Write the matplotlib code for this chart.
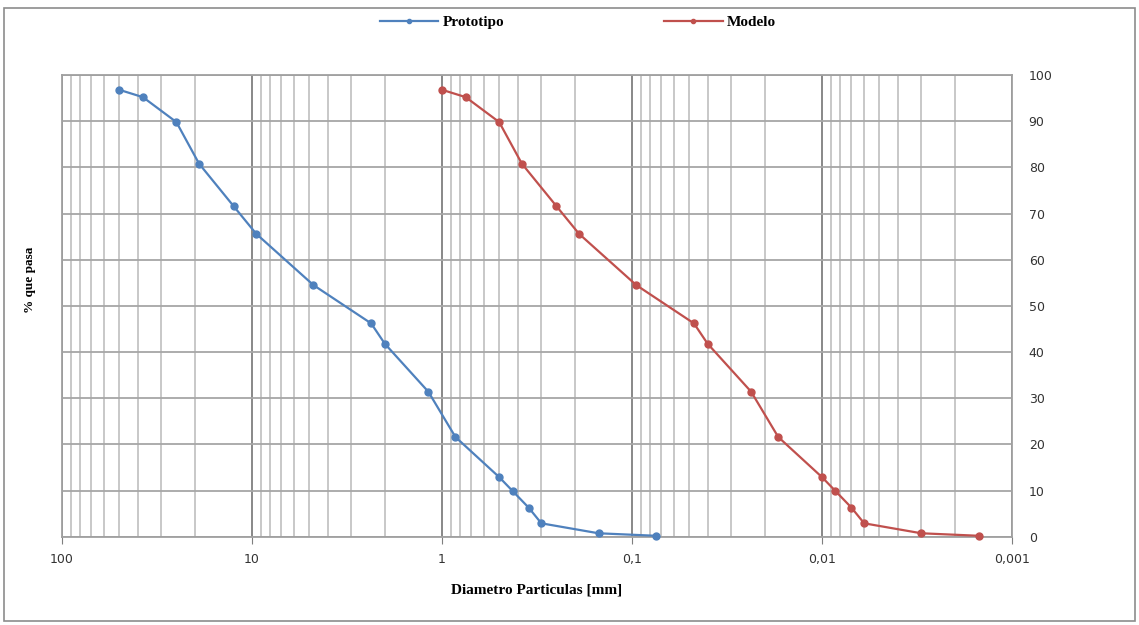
import matplotlib.pyplot as plt
from matplotlib.patches import Rectangle
from matplotlib.ticker import FixedLocator, LogLocator, FuncFormatter, NullFormatter

# Granulometria: diametro (mm) vs % que pasa
diam_prototipo = [50, 37.5, 25, 19, 12.5, 9.5, 4.75, 2.36, 2.0, 1.18,
                  0.85, 0.5, 0.425, 0.35, 0.3, 0.15, 0.075]
pasa_prototipo = [96.8, 95.2, 89.8, 80.8, 71.6, 65.6, 54.5, 46.2, 41.8, 31.4,
                  21.6, 12.9, 9.9, 6.3, 2.9, 0.74, 0.2]
escala = 50
diam_modelo = [d / escala for d in diam_prototipo]
pasa_modelo = [96.8, 95.2, 89.8, 80.8, 71.6, 65.6, 54.5, 46.2, 41.8, 31.4,
               21.6, 12.9, 9.9, 6.3, 2.9, 0.74, 0.2]

x_ticks = [100, 10, 1, 0.1, 0.01, 0.001]
y_ticks = list(range(0, 101, 10))

serif = 'Liberation Serif'

fig = plt.figure(figsize=(11.39, 6.25), dpi=100)
ax = fig.add_axes([62 / 1139, 1 - 536.7 / 625, 950 / 1139, 461.7 / 625])

ax.plot(diam_prototipo, pasa_prototipo, color='#4F81BD', lw=1.6,
        marker='o', ms=5, label='Prototipo', zorder=3, clip_on=False)
ax.plot(diam_modelo, pasa_modelo, color='#C0504D', lw=1.6,
        marker='o', ms=5, label='Modelo', zorder=3, clip_on=False)

ax.set_xscale('log')
ax.set_xlim(100, 0.001)
ax.set_ylim(0, 100)

ax.xaxis.set_major_locator(FixedLocator(x_ticks))
ax.xaxis.set_minor_locator(LogLocator(base=10, subs=range(2, 10), numticks=20))
ax.xaxis.set_minor_formatter(NullFormatter())
ax.xaxis.set_major_formatter(FuncFormatter(lambda v, p: ('%g' % v).replace('.', ',')))
ax.set_yticks(y_ticks)

ax.grid(which='major', axis='x', color='#7f7f7f', lw=1.3)
ax.grid(which='minor', axis='x', color='#c4c4c4', lw=1.3)
ax.grid(which='major', axis='y', color='#a6a6a6', lw=1.3)
ax.set_axisbelow(True)

for s in ax.spines.values():
    s.set_color('#a0a0a0')
    s.set_linewidth(1.3)

ax.yaxis.tick_right()
ax.tick_params(axis='y', length=0, pad=12, labelsize=9, colors='#333333')
ax.tick_params(axis='x', which='major', length=5, color='#7f7f7f', pad=7,
               labelsize=9, labelcolor='#333333')
ax.tick_params(axis='x', which='minor', length=0)
for lbl in ax.get_xticklabels() + ax.get_yticklabels():
    lbl.set_fontfamily('DejaVu Sans')

ax.set_xlabel('Diametro Particulas [mm]', fontfamily=serif, fontweight='bold',
              fontsize=11)
ax.xaxis.set_label_coords(0.5, -(583 - 536.7) / 461.7)
ax.set_ylabel('% que pasa', fontfamily=serif, fontweight='bold', fontsize=9.5)
ax.yaxis.set_label_coords(-32 / 950, (536.7 - 280) / 461.7)
ax.yaxis.label.set_verticalalignment('center')

fig.legend(loc='center', bbox_to_anchor=(578 / 1139, 1 - 22 / 625), ncol=2,
           frameon=False, markerscale=0.6, handlelength=3.8, columnspacing=10.5,
           handletextpad=0.3,
           prop={'family': serif, 'weight': 'bold', 'size': 11})

fig.patches.append(Rectangle((4 / 1139, 4 / 625), 1131 / 1139, 613 / 625,
                             transform=fig.transFigure, fill=False,
                             edgecolor='#8c8c8c', lw=1.2))

fig.savefig('out.png', dpi=100)
